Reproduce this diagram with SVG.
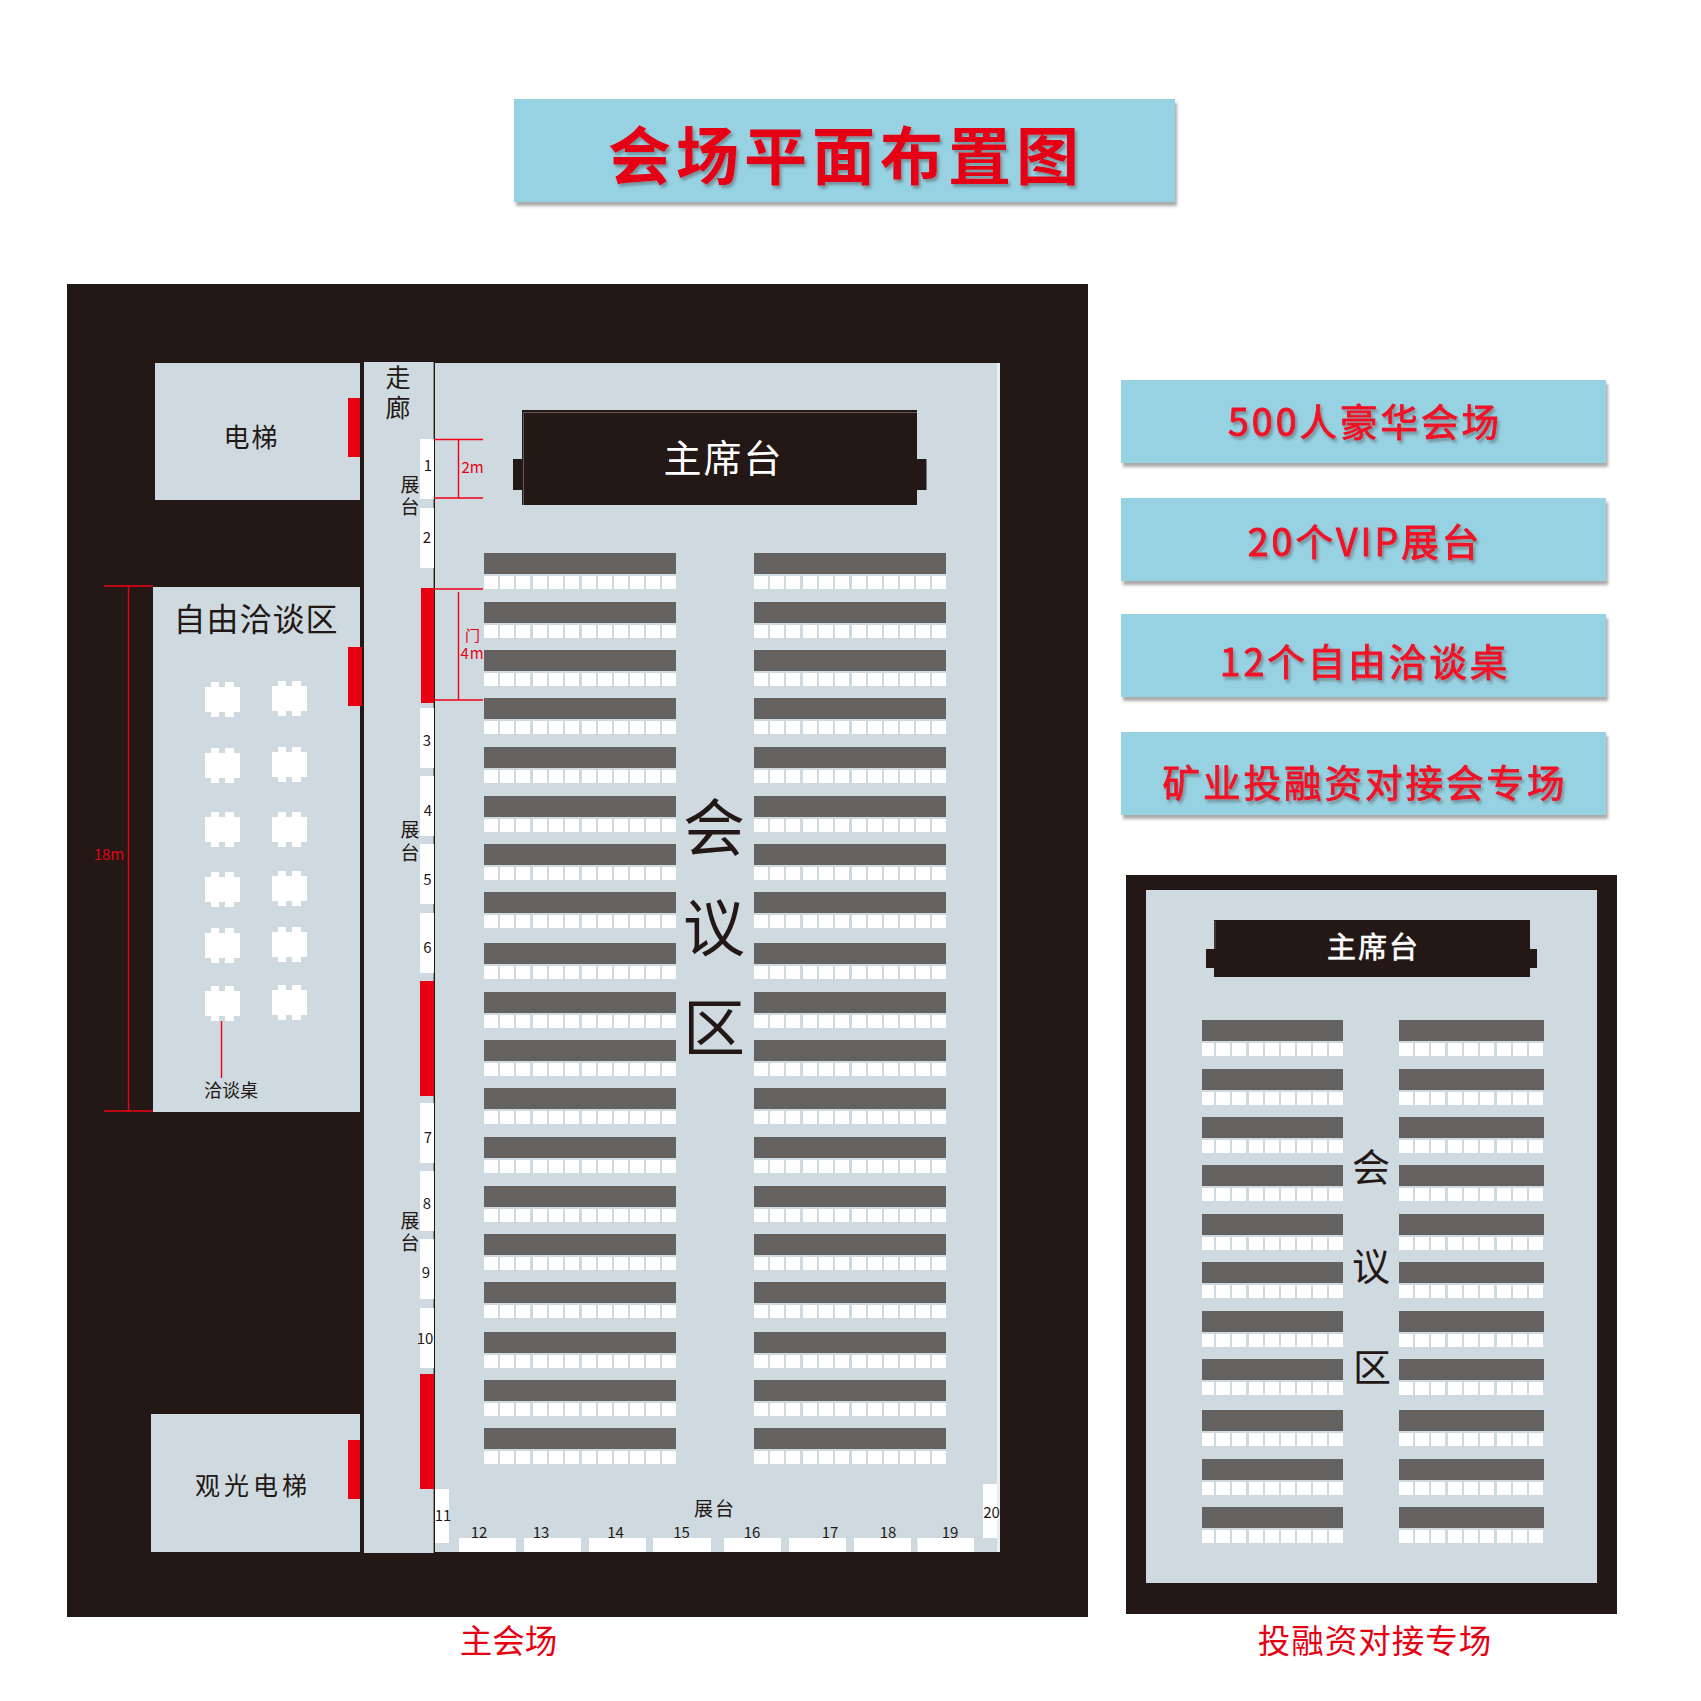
<svg xmlns="http://www.w3.org/2000/svg" width="1701" height="1701" viewBox="0 0 1701 1701">
<style>
text{font-family:"Noto Sans CJK SC","Noto Sans",sans-serif;text-anchor:middle;fill:#231815}
.frame{fill:#231815}.panel{fill:#cfdae0}.door{fill:#e60012}.w{fill:#fff}.bar{fill:#646260}
.banner{fill:#97d2e3;filter:url(#boxShadow)}
.bt{font-size:37.500px;font-weight:400;fill:#f01226;stroke:#f01226;stroke-width:.9px;letter-spacing:3px;filter:url(#textShadow)}
.n{font-size:15px}.zt{font-size:19px}.hall{font-size:62px}.hall2{font-size:38px}
.dim{font-size:15px;fill:#e60012}.cap{font-size:32.500px;fill:#e60012}
.dl{stroke:#f00014;stroke-width:1.400;fill:none}
</style>
<defs>
<filter id="boxShadow" x="-5%" y="-10%" width="110%" height="125%"><feDropShadow dx="2" dy="4" stdDeviation="1.5" flood-color="#555" flood-opacity=".5"/></filter>
<filter id="textShadow" x="-5%" y="-15%" width="110%" height="135%"><feDropShadow dx="2" dy="3" stdDeviation="1.6" flood-color="#444" flood-opacity=".45"/></filter>
<g id="rowM">
<rect class="bar" width="192" height="21"/>
<g class="w"><rect x="0" y="23" width="14" height="13"/><rect x="16" y="23" width="14" height="13"/><rect x="32" y="23" width="14" height="13"/><rect x="49" y="23" width="14" height="13"/><rect x="65" y="23" width="14" height="13"/><rect x="81" y="23" width="14" height="13"/><rect x="98" y="23" width="14" height="13"/><rect x="114" y="23" width="14" height="13"/><rect x="130" y="23" width="14" height="13"/><rect x="146" y="23" width="14" height="13"/><rect x="162" y="23" width="14" height="13"/><rect x="178" y="23" width="14" height="13"/></g>
</g>
<g id="rowL">
<rect class="bar" width="141" height="21"/>
<g class="w"><rect x="0" y="23" width="12" height="13"/><rect x="14" y="23" width="14" height="13"/><rect x="30" y="23" width="14" height="13"/><rect x="47" y="23" width="14" height="13"/><rect x="63" y="23" width="14" height="13"/><rect x="79" y="23" width="14" height="13"/><rect x="95" y="23" width="14" height="13"/><rect x="111" y="23" width="14" height="13"/><rect x="127" y="23" width="14" height="13"/></g>
</g>
<g id="rowR">
<rect class="bar" width="145" height="21"/>
<g class="w"><rect x="0" y="23" width="14" height="13"/><rect x="16" y="23" width="14" height="13"/><rect x="32" y="23" width="14" height="13"/><rect x="49" y="23" width="14" height="13"/><rect x="65" y="23" width="14" height="13"/><rect x="81" y="23" width="14" height="13"/><rect x="98" y="23" width="14" height="13"/><rect x="114" y="23" width="14" height="13"/><rect x="130" y="23" width="14" height="13"/></g>
</g>
<g id="tbl" class="w"><rect y="5" width="35" height="25"/><rect x="6" width="8" height="35"/><rect x="20" width="9" height="35"/></g>
<g id="rows1">
<use href="#rowM" y="553"/><use href="#rowM" y="602"/><use href="#rowM" y="650"/><use href="#rowM" y="698"/><use href="#rowM" y="747"/><use href="#rowM" y="796"/><use href="#rowM" y="844"/><use href="#rowM" y="892"/><use href="#rowM" y="943"/><use href="#rowM" y="992"/><use href="#rowM" y="1040"/><use href="#rowM" y="1088"/><use href="#rowM" y="1137"/><use href="#rowM" y="1186"/><use href="#rowM" y="1234"/><use href="#rowM" y="1282"/><use href="#rowM" y="1332"/><use href="#rowM" y="1380"/><use href="#rowM" y="1428"/>
</g>
</defs>
<rect width="1701" height="1701" fill="#fff"/>

<g id="title">
<rect class="banner" x="514" y="99" width="661" height="103"/>
<text x="846" y="179" font-size="63" font-weight="700" letter-spacing="5" style="fill:#e60012;filter:url(#textShadow)">会场平面布置图</text>
</g>

<g id="main-hall">
<rect class="frame" x="67" y="284" width="1021" height="1333"/>
<rect class="panel" x="435" y="363" width="565" height="1189"/>
<rect x="997" y="363" width="3" height="1189" fill="#e6f0f4"/>
</g>

<g id="corridor">
<rect class="panel" x="364" y="362" width="70" height="1191"/>
<rect x="433.600" y="362" width="1.200" height="1191" fill="#231815"/>
<text font-size="25"><tspan x="398" y="387">走</tspan><tspan x="398" y="417">廊</tspan></text>
</g>

<g id="elevator">
<rect class="panel" x="155" y="363" width="205" height="137"/>
<rect class="door" x="348" y="398" width="12" height="59"/>
<text x="251.500" y="447" font-size="26" letter-spacing="2">电梯</text>
</g>

<g id="free-talk">
<rect class="panel" x="153" y="587" width="207" height="525"/>
<rect class="door" x="348" y="647" width="14" height="59"/>
<text x="256" y="631" font-size="32" letter-spacing="1">自由洽谈区</text>
<use href="#tbl" x="205" y="682"/><use href="#tbl" x="272" y="681"/>
<use href="#tbl" x="205" y="748"/><use href="#tbl" x="272" y="747"/>
<use href="#tbl" x="205" y="812"/><use href="#tbl" x="272" y="812"/>
<use href="#tbl" x="205" y="872"/><use href="#tbl" x="272" y="871"/>
<use href="#tbl" x="205" y="928"/><use href="#tbl" x="272" y="927"/>
<use href="#tbl" x="205" y="986"/><use href="#tbl" x="272" y="985"/>
<text x="231" y="1097" font-size="18">洽谈桌</text>
</g>

<g id="sightseeing-elevator">
<rect class="panel" x="151" y="1414" width="209" height="138"/>
<rect class="door" x="348" y="1440" width="12" height="59"/>
<text x="253" y="1495" font-size="25" letter-spacing="4">观光电梯</text>
</g>

<g id="stage">
<rect class="frame" x="522" y="410" width="395" height="95"/>
<rect class="frame" x="513" y="459" width="413.500" height="31"/>
<path d="M523.500 505V412.500H917" fill="none" stroke="#6e6a67" stroke-width=".8"/>
<text x="723.500" y="472" font-size="38" letter-spacing="2" style="fill:#fff">主席台</text>
</g>

<g id="booths">
<g class="w">
<rect x="420" y="439" width="14" height="60"/><rect x="420" y="508" width="14" height="60"/><rect x="420" y="708" width="14" height="60"/><rect x="420" y="776" width="14" height="60"/><rect x="420" y="844" width="14" height="60"/><rect x="420" y="913" width="14" height="60"/><rect x="420" y="1103" width="14" height="60"/><rect x="420" y="1171" width="14" height="60"/><rect x="420" y="1239" width="14" height="60"/><rect x="420" y="1308" width="14" height="60"/>
<rect x="435" y="1489" width="14" height="54"/>
<rect x="459" y="1538" width="57" height="14"/><rect x="524" y="1538" width="57" height="14"/><rect x="589" y="1538" width="57" height="14"/><rect x="653" y="1538" width="58" height="14"/><rect x="724" y="1538" width="57" height="14"/><rect x="789" y="1538" width="57" height="14"/><rect x="854" y="1538" width="57" height="14"/><rect x="917.500" y="1538" width="56.500" height="14"/>
<rect x="983" y="1484" width="14" height="54"/>
</g>
<rect class="door" x="421" y="588" width="13" height="115"/>
<rect class="door" x="420" y="981" width="14" height="115"/>
<rect class="door" x="420" y="1374" width="14" height="115"/>
<text class="n" x="428" y="471">1</text><text class="n" x="427" y="543">2</text><text class="n" x="427" y="746">3</text><text class="n" x="428" y="816">4</text><text class="n" x="427.500" y="885">5</text><text class="n" x="427.500" y="953">6</text><text class="n" x="428" y="1143">7</text><text class="n" x="427" y="1209">8</text><text class="n" x="426" y="1278">9</text><text class="n" x="425" y="1344">10</text><text class="n" x="443" y="1521">11</text>
<text class="n" x="479" y="1538">12</text><text class="n" x="541" y="1538">13</text><text class="n" x="615.500" y="1538">14</text><text class="n" x="681.500" y="1538">15</text><text class="n" x="752" y="1538">16</text><text class="n" x="830" y="1538">17</text><text class="n" x="888" y="1538">18</text><text class="n" x="950" y="1538">19</text><text class="n" x="991.500" y="1518">20</text>
<text class="zt"><tspan x="410" y="492">展</tspan><tspan x="410" y="514">台</tspan></text>
<text class="zt"><tspan x="410" y="837">展</tspan><tspan x="410" y="860">台</tspan></text>
<text class="zt"><tspan x="410" y="1228">展</tspan><tspan x="410" y="1250">台</tspan></text>
<text class="zt" x="715" y="1516" letter-spacing="2">展台</text>
</g>

<g id="seats-main">
<use href="#rows1" x="484"/>
<use href="#rows1" x="754"/>
<text class="hall" x="714" y="851">会</text><text class="hall" x="714" y="951">议</text><text class="hall" x="714" y="1051">区</text>
</g>

<g id="connectors">
<path class="dl" d="M104 586H153M128.500 586V1111M104 1111H153M221.500 1021V1078"/>
<path class="dl" d="M434 439.500H483M434 498H483M458.500 439.500V498M434 589H483M434 700H483M458.500 592V700"/>
<text class="dim" x="109" y="860">18m</text>
<text class="dim" x="472.500" y="473">2m</text>
<text class="dim" x="472.500" y="641">门</text>
<text class="dim" x="472.500" y="659" letter-spacing="1">4m</text>
</g>

<g id="banner-500"><rect class="banner" x="1121" y="380" width="485" height="83"/><text class="bt" x="1365" y="436">500人豪华会场</text></g>
<g id="banner-vip"><rect class="banner" x="1121" y="498" width="485" height="83"/><text class="bt" x="1365" y="556">20个VIP展台</text></g>
<g id="banner-talk"><rect class="banner" x="1121" y="614" width="485" height="83"/><text class="bt" x="1365" y="676">12个自由洽谈桌</text></g>
<g id="banner-mining"><rect class="banner" x="1121" y="732" width="485" height="83"/><text class="bt" x="1365" y="797">矿业投融资对接会专场</text></g>

<g id="side-hall">
<rect class="frame" x="1126" y="875" width="491" height="739"/>
<rect class="panel" x="1146" y="890" width="451" height="693"/>
</g>
<g id="side-stage">
<rect class="frame" x="1214" y="920" width="316" height="57"/>
<rect class="frame" x="1206" y="949" width="331" height="19"/>
<path d="M1215 949V921" fill="none" stroke="#6e6a67" stroke-width=".8"/>
<text x="1373.500" y="958" font-size="29" font-weight="400" letter-spacing="2" style="fill:#fff;stroke:#fff;stroke-width:.6px">主席台</text>
</g>
<g id="side-seats">
<use href="#rowL" x="1202" y="1020"/><use href="#rowL" x="1202" y="1069"/><use href="#rowL" x="1202" y="1117"/><use href="#rowL" x="1202" y="1165"/><use href="#rowL" x="1202" y="1214"/><use href="#rowL" x="1202" y="1262"/><use href="#rowL" x="1202" y="1311"/><use href="#rowL" x="1202" y="1359"/><use href="#rowL" x="1202" y="1410"/><use href="#rowL" x="1202" y="1459"/><use href="#rowL" x="1202" y="1507"/>
<use href="#rowR" x="1399" y="1020"/><use href="#rowR" x="1399" y="1069"/><use href="#rowR" x="1399" y="1117"/><use href="#rowR" x="1399" y="1165"/><use href="#rowR" x="1399" y="1214"/><use href="#rowR" x="1399" y="1262"/><use href="#rowR" x="1399" y="1311"/><use href="#rowR" x="1399" y="1359"/><use href="#rowR" x="1399" y="1410"/><use href="#rowR" x="1399" y="1459"/><use href="#rowR" x="1399" y="1507"/>
<text class="hall2" x="1371" y="1181">会</text><text class="hall2" x="1371" y="1280">议</text><text class="hall2" x="1372" y="1381">区</text>
</g>

<g id="captions">
<text class="cap" x="508.500" y="1653">主会场</text>
<text class="cap" x="1375" y="1653" letter-spacing="1">投融资对接专场</text>
</g>
</svg>
